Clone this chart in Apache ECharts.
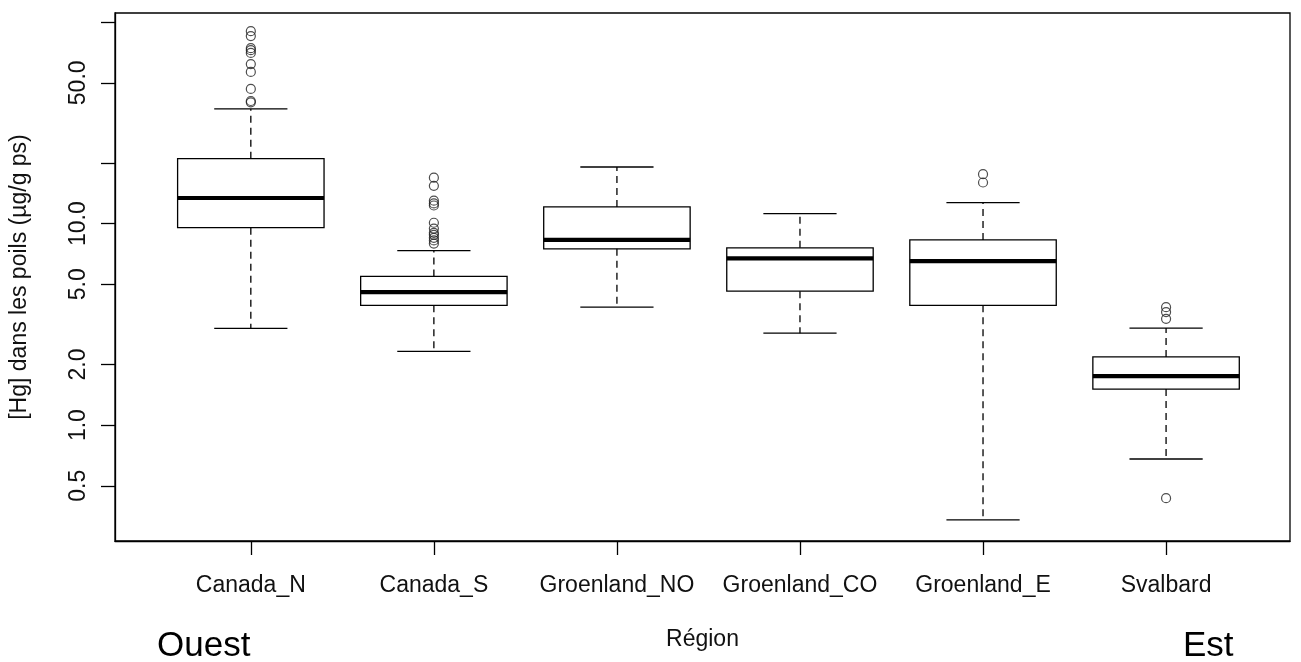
<!DOCTYPE html>
<html>
<head>
<meta charset="utf-8">
<script src="https://cdn.jsdelivr.net/npm/echarts@6/dist/echarts.min.js"></script>
<style>
html,body{margin:0;padding:0;background:#fff;}
#chart{width:1301px;height:662px;}
</style>
</head>
<body>
<div id="chart"></div>
<script>
// ---- data ----
const categories = ['Canada_N', 'Canada_S', 'Groenland_NO', 'Groenland_CO', 'Groenland_E', 'Svalbard'];
const whiskerLow  = [3.02, 2.32, 3.85, 2.86, 0.339, 0.679];
const q1          = [9.55, 3.93, 7.50, 4.62, 3.93, 1.51];
const median      = [13.4, 4.57, 8.30, 6.73, 6.51, 1.75];
const q3          = [21.0, 5.47, 12.1, 7.58, 8.30, 2.18];
const whiskerHigh = [37.1, 7.35, 19.1, 11.2, 12.7, 3.03];
const outliers = [
  [90.2, 85.3, 74.3, 72.6, 70.3, 61.9, 56.6, 46.6, 40.6, 40.0],
  [16.9, 15.4, 13.0, 12.6, 12.3, 10.1, 9.45, 9.0, 8.8, 8.5, 8.25, 7.96],
  [],
  [],
  [17.6, 16.0],
  [3.85, 3.64, 3.37, 0.434]
];
const yTickValues  = [0.5, 1, 2, 5, 10, 20, 50, 100];
const yLabelValues = [0.5, 1, 2, 5, 10, 50];
const yAxisTitle = '[Hg] dans les poils (µg/g ps)';
const xAxisTitle = 'Région';
const leftNote = 'Ouest';
const rightNote = 'Est';

// ---- build series data ----
const boxData = categories.map((c, i) => [i + 1, whiskerLow[i], q1[i], median[i], q3[i], whiskerHigh[i]]);
const outlierData = [];
outliers.forEach((arr, i) => arr.forEach(v => outlierData.push([i + 1, v])));
const catPositions = categories.map((c, i) => i + 1);

const FONT = 'Liberation Sans, Arial, sans-serif';
const LINE = '#000';

const chart = echarts.init(document.getElementById('chart'), null, {renderer: 'canvas'});
chart.setOption({
  animation: false,
  backgroundColor: '#fff',
  grid: {
    left: 114, right: 11, top: 13, bottom: 121,
    show: true, borderColor: LINE, borderWidth: 1.3, backgroundColor: 'transparent'
  },
  xAxis: {
    type: 'value',
    min: 0.258, max: 6.677,
    name: xAxisTitle,
    nameLocation: 'middle',
    nameGap: 87,
    nameTextStyle: {fontFamily: FONT, fontSize: 23, color: '#111'},
    axisLine: {show: true, onZero: false, lineStyle: {color: LINE, width: 1.3}},
    axisTick: {show: true, length: 14, customValues: catPositions, lineStyle: {color: LINE, width: 1.3}},
    axisLabel: {
      customValues: catPositions,
      formatter: v => categories[Math.round(v) - 1] || '',
      fontFamily: FONT, fontSize: 23, color: '#111', margin: 33
    },
    splitLine: {show: false}
  },
  yAxis: {
    type: 'log',
    logBase: 10,
    min: 0.266, max: 111,
    name: yAxisTitle,
    nameLocation: 'middle',
    nameGap: 84,
    nameRotate: 90,
    nameTextStyle: {fontFamily: FONT, fontSize: 23, color: '#111'},
    axisLine: {show: true, lineStyle: {color: LINE, width: 1.3}},
    axisTick: {show: true, length: 14, customValues: yTickValues, lineStyle: {color: LINE, width: 1.3}},
    axisLabel: {
      customValues: yLabelValues,
      rotate: 90,
      formatter: v => Number(v).toFixed(1),
      fontFamily: FONT, fontSize: 23, color: '#111', margin: 25
    },
    splitLine: {show: false},
    minorTick: {show: false}
  },
  series: [
    {
      type: 'custom',
      name: 'box',
      encode: {x: 0, y: [1, 2, 3, 4, 5]},
      data: boxData,
      renderItem: function (params, api) {
        const x = api.value(0);
        const pLo = api.coord([x, api.value(1)]);
        const pQ1 = api.coord([x, api.value(2)]);
        const pMed = api.coord([x, api.value(3)]);
        const pQ3 = api.coord([x, api.value(4)]);
        const pHi = api.coord([x, api.value(5)]);
        const cx = pLo[0];
        const half = api.coord([x + 0.4, api.value(3)])[0] - cx;
        const capHalf = half / 2;
        const solid = {stroke: LINE, lineWidth: 1.3, fill: null};
        const dashed = {stroke: LINE, lineWidth: 1.3, lineDash: [7, 5], fill: null};
        return {
          type: 'group',
          children: [
            {type: 'line', shape: {x1: cx, y1: pQ3[1], x2: cx, y2: pHi[1]}, style: dashed},
            {type: 'line', shape: {x1: cx, y1: pQ1[1], x2: cx, y2: pLo[1]}, style: dashed},
            {type: 'line', shape: {x1: cx - capHalf, y1: pHi[1], x2: cx + capHalf, y2: pHi[1]}, style: solid},
            {type: 'line', shape: {x1: cx - capHalf, y1: pLo[1], x2: cx + capHalf, y2: pLo[1]}, style: solid},
            {type: 'rect', shape: {x: cx - half, y: pQ3[1], width: 2 * half, height: pQ1[1] - pQ3[1]},
             style: {stroke: LINE, lineWidth: 1.3, fill: 'rgba(0,0,0,0)'}},
            {type: 'line', shape: {x1: cx - half, y1: pMed[1], x2: cx + half, y2: pMed[1]},
             style: {stroke: LINE, lineWidth: 4.2}}
          ]
        };
      },
      z: 2
    },
    {
      type: 'scatter',
      name: 'outliers',
      data: outlierData,
      symbol: 'circle',
      symbolSize: 9,
      itemStyle: {color: 'rgba(255,255,255,0)', borderColor: '#222', borderWidth: 1.2},
      z: 3
    }
  ],
  graphic: [
    {type: 'text', left: 157, top: 629, style: {text: leftNote, font: '35px ' + FONT, fill: '#000'}},
    {type: 'text', left: 1183, top: 629, style: {text: rightNote, font: '35px ' + FONT, fill: '#000'}}
  ]
});
</script>
</body>
</html>
